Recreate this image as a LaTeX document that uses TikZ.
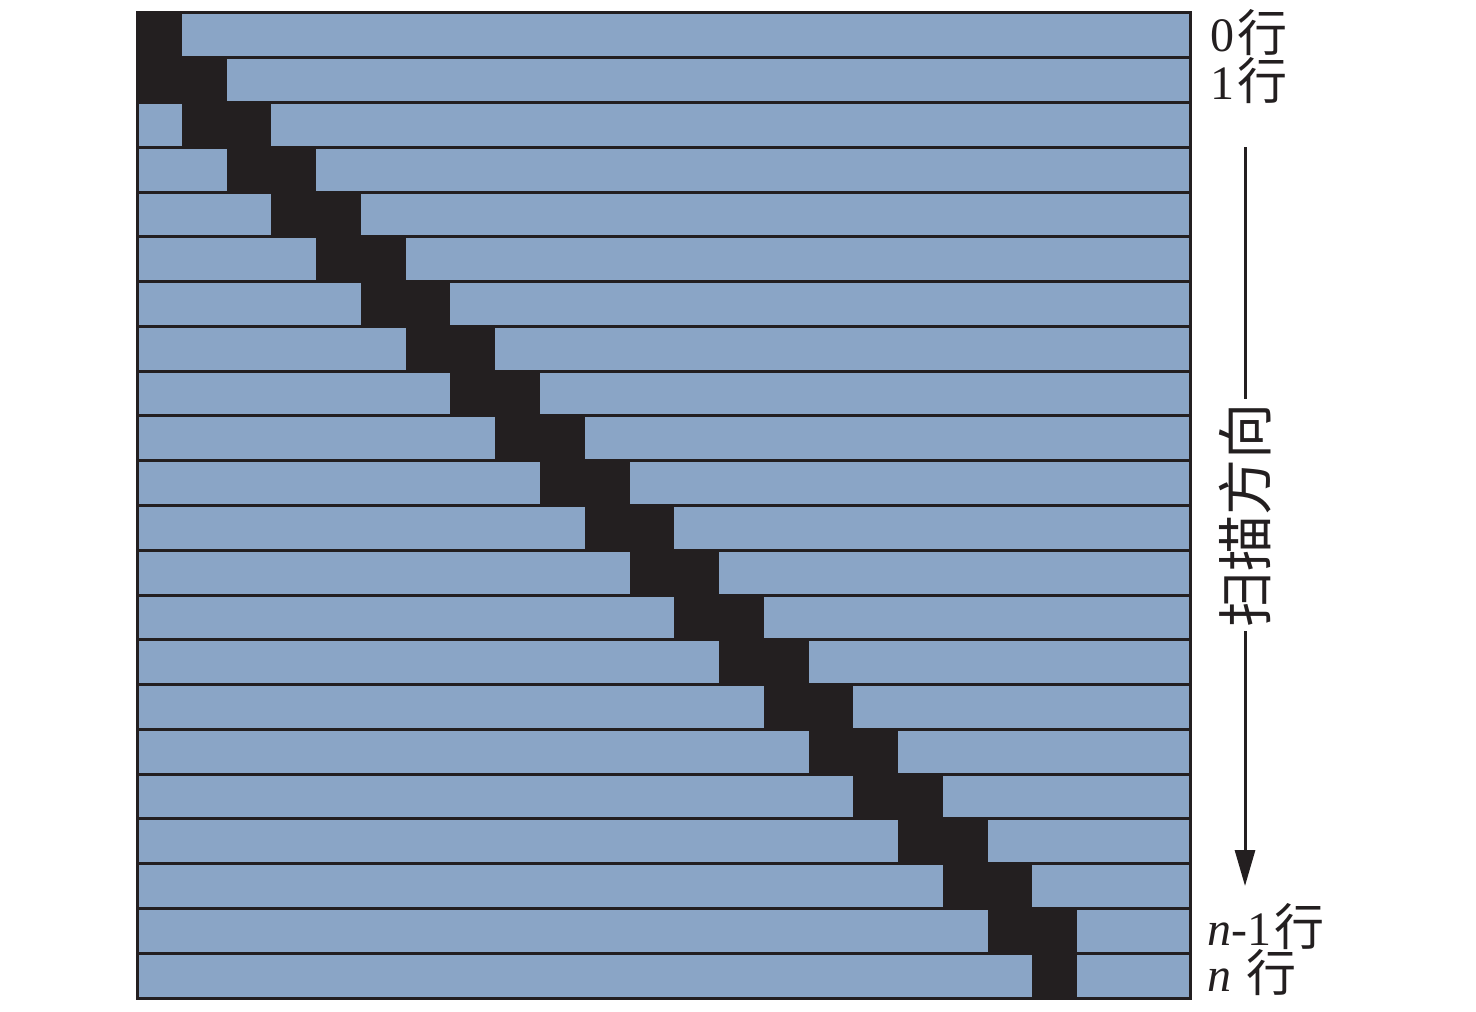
\documentclass[tikz,border=0pt]{standalone}
\usepackage{fontspec}
\setmainfont{Liberation Serif}
\newfontfamily\cjk{Noto Sans CJK SC}
\usetikzlibrary{arrows.meta}
\definecolor{ink}{HTML}{231F20}
\definecolor{barblue}{HTML}{8AA5C6}
\newcommand{\hang}{{\hspace{1.5pt}\cjk\fontsize{25}{25}\selectfont 行}}
\begin{document}
\begin{tikzpicture}[x=0.5pt,y=-0.5pt,
  lbl/.style={font=\fontsize{24}{24}\selectfont, anchor=base west, inner sep=0pt, text=ink},
  rule/.style={ink, line width=1.5pt}]
\useasboundingbox (0,0) rectangle (1476,1011);
\fill[ink] (135.5,11.5) rectangle (1191.5,999.5);
\foreach \i in {0,...,21}{
  \pgfmathsetmacro\ytop{13+\i*44.7727+1.5}
  \pgfmathsetmacro\ybot{13+(\i+1)*44.7727-1.5}
  \pgfmathsetmacro\xr{137+(min(\i,20)+1)*44.7727}
  \fill[barblue] (\xr,\ytop) rectangle (1188.5,\ybot);
  \ifnum\i>1
    \pgfmathsetmacro\xl{137+(\i-1)*44.7727}
    \fill[barblue] (138.5,\ytop) rectangle (\xl,\ybot);
  \fi
}
\node[lbl] (r0) at (1210,52) {0\hang};
\node[lbl] (r1) at (1210,100) {1\hang};
\node[lbl] (rn1) at (1207,945) {\textit{n}-1\hang};
\node[lbl] (rn) at (1207,991) {\textit{n} \hang};
\coordinate (atop) at (1245,147);
\coordinate (abot) at (1245,886);
\node[rotate=90, inner sep=2pt, font=\cjk\fontsize{28}{28}\selectfont, text=ink] (scan) at (1245,515) {扫描方向};
\draw[rule] (atop) -- (scan.east);
\draw[rule, -{Triangle[length=18pt,width=10pt]}] (scan.west) -- (abot);
\end{tikzpicture}
\end{document}
